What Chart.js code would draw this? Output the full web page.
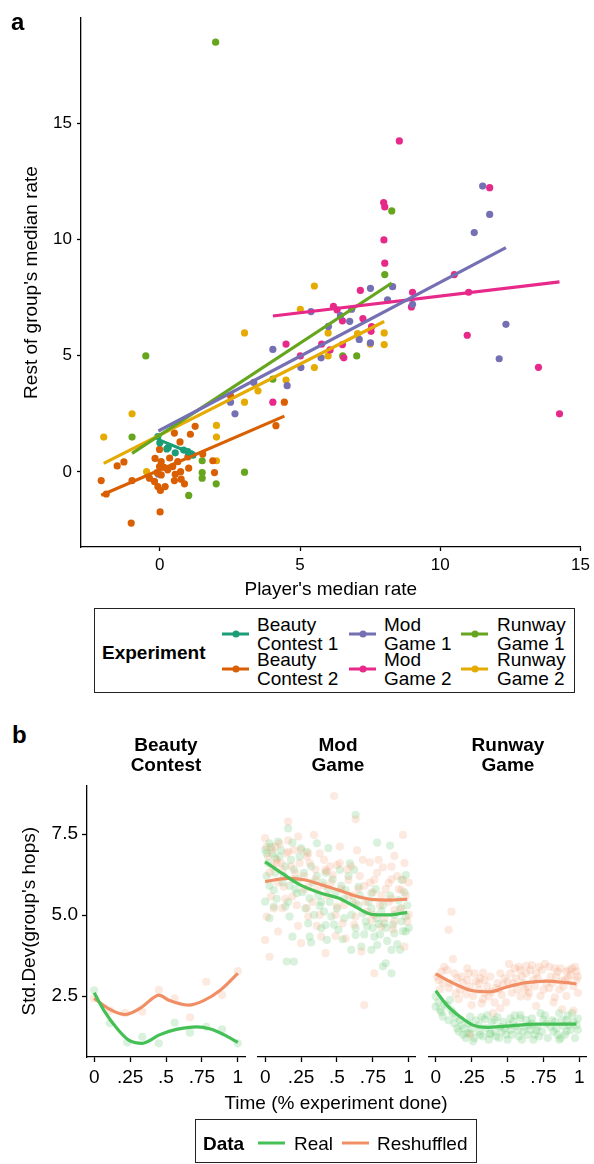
<!DOCTYPE html>
<html><head><meta charset="utf-8">
<script src="https://cdn.jsdelivr.net/npm/chart.js@4"></script>
<style>
body{margin:0;width:594px;height:1164px;position:relative;background:#fff;font-family:"Liberation Sans",Arial,Helvetica,sans-serif;overflow:hidden}
canvas{position:absolute}
.t{position:absolute;color:#000;white-space:nowrap;font-size:19px;line-height:19px}
.c{transform:translate(-50%,-50%);text-align:center}
.l{transform:translateY(-50%)}
.b{font-weight:bold}
.box{position:absolute;border:1px solid #222;box-sizing:border-box}
.sw{position:absolute;height:3px;transform:translateY(-50%)}
.dot{position:absolute;width:7px;height:7px;border-radius:50%;transform:translate(-50%,-50%)}
</style></head><body>
<canvas id="ca" style="left:0px;top:0px" width="594" height="606"></canvas>
<canvas id="cb1" style="left:0px;top:770px" width="250" height="330"></canvas>
<canvas id="cb2" style="left:250px;top:770px" width="170" height="330"></canvas>
<canvas id="cb3" style="left:420px;top:770px" width="174" height="330"></canvas>
<div id="txt"></div>
<script>
// ---------- Panel a data ----------
const aXTicks = [0, 5, 10, 15];
const aYTicks = [0, 5, 10, 15];
const experiments = ["Beauty Contest 1", "Beauty Contest 2", "Mod Game 1", "Mod Game 2", "Runway Game 1", "Runway Game 2"];
const expColors = ["#1B9E77", "#D95F02", "#7570B3", "#E7298A", "#66A61E", "#E6AB02"];
const beauty1 = [[-0.07,1.52],[0.0,1.25],[0.25,0.99],[0.3,1.05],[0.55,0.82],[0.85,0.94],[1.0,0.87],[1.12,0.78],[1.18,0.72]];
const beauty2 = [[-2.09,-0.37],[-1.91,-0.95],[-1.52,0.26],[-1.28,0.43],[-0.99,-0.37],[-1.02,-2.2],[0.01,-1.72],
  [-0.01,0.97],[-0.17,0.58],[0.05,0.44],[-0.01,0.23],[-0.1,-0.03],[0.05,-0.13],[-0.37,-0.27],[-0.19,-0.41],
  [-0.07,-0.63],[0.02,-0.8],[0.19,-0.63],[0.28,0.09],[0.46,0.23],[0.64,0.44],[0.74,0.01],[0.52,-0.37],
  [0.76,-0.31],[0.88,-0.51],[1.03,0.16],[1.0,0.65],[0.72,1.29],[0.52,1.67],[1.09,1.62],[1.26,1.96],
  [1.53,0.77],[1.89,0.48],[1.95,-0.03],[2.52,3.28],[4.14,1.99],[4.44,3.0],[0.35,0.6],[0.15,0.2],[0.55,-0.1]];
const mod1 = [[-0.05,-0.1],[2.52,3.0],[2.68,2.5],[3.35,3.85],[4.03,5.27],[4.54,3.71],[5.03,4.49],[5.39,6.9],
  [5.75,4.91],[6.01,6.26],[6.44,6.73],[6.77,6.48],[6.84,7.0],[7.11,5.7],[7.51,7.9],[7.51,5.55],[8.12,7.4],
  [8.3,7.97],[9.01,7.21],[11.21,10.3],[11.51,12.3],[11.76,11.08],[12.34,6.35],[12.1,4.87]];
const mod2 = [[8.54,14.24],[11.76,12.23],[7.98,11.59],[8.02,11.4],[7.99,9.98],[8.02,8.98],[10.5,8.49],[11.01,7.73],
  [9.01,7.73],[8.97,7.1],[7.15,7.81],[6.19,7.12],[6.32,6.97],[6.51,6.5],[7.24,6.6],[7.53,6.05],[7.55,6.25],
  [5.77,5.5],[6.07,5.25],[6.56,4.91],[6.51,5.48],[5.01,4.99],[10.96,5.88],[13.5,4.5],[14.25,2.5],[4.5,5.5],[4.03,3.0]];
const runway1 = [[1.99,18.49],[-0.5,4.99],[-0.99,1.5],[1.51,0.48],[1.51,-0.03],[1.51,-0.27],[2.01,-0.51],[3.02,-0.01],
  [1.03,-1.01],[8.02,8.49],[6.52,4.99],[7.02,4.99],[4.03,3.99],[8.27,11.23]];
const runway2 = [[-2.0,1.5],[-0.99,2.5],[-0.47,0.01],[2.02,2.0],[2.02,1.5],[2.02,0.48],[3.02,3.0],[3.5,3.49],[4.5,3.95],
  [3.02,5.98],[5.51,4.49],[5.01,7.0],[5.51,8.0],[6.0,5.98],[6.0,4.99],[7.5,5.5],[8.0,5.98],[8.0,5.48],[7.05,5.95]];
// fitted lines (endpoints)
const beauty1Fit = [[-0.07,1.4],[1.18,0.78]];
const beauty2Fit = [[-2.09,-1.0],[4.44,2.4]];
const mod1Fit = [[-0.05,1.76],[12.34,9.65]];
const mod2Fit = [[4.03,6.71],[14.25,8.18]];
const runway1Fit = [[-0.99,0.8],[8.27,8.13]];
const runway2Fit = [[-2.0,0.37],[8.0,6.47]];

// ---------- Panel b data ----------
const facets = ["Beauty\nContest", "Mod\nGame", "Runway\nGame"];
const bXTicks = [0, 0.25, 0.5, 0.75, 1];
const bXLabels = ["0", ".25", ".5", ".75", "1"];
const bYTicks = [2.5, 5.0, 7.5];
const bYLabels = ["2.5", "5.0", "7.5"];
const realColor = "#45C056";
const shufColor = "#F08F65";
const bcReal = [[0,2.68],[0.11,1.66],[0.23,1.07],[0.335,1.24],[0.45,1.04],[0.56,1.68],[0.667,1.37],[0.78,1.55],[0.89,1.47],[1.0,1.04]];
const bcShuf = [[0,2.43],[0.11,2.05],[0.215,1.97],[0.335,2.02],[0.45,2.69],[0.56,2.43],[0.667,1.84],[0.78,2.94],[0.89,2.53],[1.0,3.27]];
const bcRealFit = [[0,2.6],[0.073,2.02],[0.168,1.45],[0.24,1.14],[0.335,1.04],[0.37,1.09],[0.454,1.3],[0.572,1.47],[0.715,1.55],[0.81,1.48],[0.905,1.3],[1.0,1.07]];
const bcShufFit = [[0,2.43],[0.096,2.12],[0.215,1.93],[0.335,2.17],[0.406,2.43],[0.449,2.53],[0.525,2.36],[0.655,2.22],[0.762,2.36],[0.88,2.69],[1.0,3.2]];
const mgReal = [[0.63,8.09],[0.16,7.67],[0.78,7.23],[0.87,7.14],[0.36,7.21],[0.44,7.06],[0.19,7.23],[0.09,7.26],[0.03,7.21],
  [0,7.01],[0.25,7.06],[0.29,6.95],[0.59,6.59],[0.52,6.39],[0.62,6.39],[0.98,6.23],[0.95,6.08],[0.01,6.9],[0.07,6.75],
  [0.06,5.77],[0,5.41],[0.06,5.26],[0.03,4.9],[0.14,5.26],[0.17,4.95],[0.22,5.67],[0.31,5.51],[0.38,5.28],[0.41,5.1],
  [0.46,4.95],[0.42,4.69],[0.3,4.74],[0.31,4.33],[0.19,4.33],[0.32,4.15],[0.43,4.23],[0.51,4.54],[0.54,4.25],[0.6,3.92],
  [0.63,4.38],[0.67,4.02],[0.71,4.64],[0.76,4.33],[0.74,3.92],[0.78,4.07],[0.88,3.92],[0.94,3.92],[0.98,4.49],[0.9,4.43],
  [0.83,4.74],[0.79,4.72],[0.81,5.1],[0.93,5.46],[0.74,5.67],[0.68,5.05],[0.65,5.87],[0.56,5.77],[0.49,5.67],[0.15,3.56],
  [0.2,3.56],[0.82,3.41],[0.88,3.2],[0.84,3.51],[0.98,4.95],[0.39,4.59],
  [0.02,6.6],[0.04,7.1],[0.07,6.3],[0.1,6.8],[0.12,6.0],[0.14,6.5],[0.17,5.9],[0.2,6.4],[0.23,6.1],[0.26,5.7],[0.33,6.0],
  [0.37,5.6],[0.4,6.0],[0.45,5.4],[0.5,5.2],[0.55,5.5],[0.6,5.0],[0.65,5.3],[0.7,4.8],[0.74,5.2],[0.78,4.9],[0.84,4.6],
  [0.9,5.0],[0.95,4.8],[0.99,5.3],
  [0.01,6.2],[0.03,5.9],[0.05,6.9],[0.08,5.5],[0.11,7.0],[0.13,6.2],[0.16,5.4],[0.18,6.7],[0.21,5.8],[0.24,6.8],[0.27,6.3],
  [0.28,5.2],[0.32,6.5],[0.34,5.0],[0.36,6.2],[0.39,5.4],[0.42,6.3],[0.44,5.8],[0.47,6.1],[0.48,4.7],[0.53,5.9],[0.55,4.9],
  [0.58,6.2],[0.61,5.4],[0.63,4.6],[0.66,5.6],[0.69,4.4],[0.72,5.4],[0.75,4.6],[0.77,5.8],[0.8,4.4],[0.82,5.3],[0.85,4.2],
  [0.87,5.6],[0.89,4.7],[0.92,4.1],[0.94,5.2],[0.96,4.5],[0.97,5.7],[1.0,4.6]];
const mgShuf = [[0.48,8.67],[0.63,7.95],[0.16,7.88],[0.96,7.47],[0,7.37],[0.23,7.42],[0.34,7.47],[0.52,7.11],[0.64,6.99],
  [0.9,6.82],[0.73,6.62],[0.79,6.7],[0.82,6.47],[0.5,6.54],[0.42,6.39],[0.29,6.8],[0.07,7.11],[0.16,6.95],[0.05,6.49],
  [0.04,5.57],[0.01,4.95],[0.03,3.71],[0,4.23],[0.09,4.49],[0.12,5.21],[0.23,4.66],[0.25,4.13],[0.29,5.21],[0.36,4.66],
  [0.39,4.33],[0.42,3.82],[0.49,4.35],[0.56,4.28],[0.63,4.95],[0.67,3.87],[0.69,2.22],[0.76,3.2],[0.81,4.64],[0.89,4.56],
  [0.97,4.02],[1.0,5.0],[0.95,5.77],[0.86,5.98],[0.76,6.08],[0.69,5.9],[0.58,6.08],[0.47,6.23],[0.43,6.34],[0.3,5.87],
  [0.21,6.29],[0.13,5.87],[0.08,6.7],[0.63,5.36],[0.5,5.26],[0.36,5.77],[0.74,4.85],[0.9,5.15],[0.19,5.57],[0.88,6.49],
  [0.96,6.08],[0.54,4.74],[0.3,4.95],
  [0.02,6.8],[0.05,7.0],[0.08,6.6],[0.1,7.2],[0.12,6.4],[0.15,6.9],[0.18,6.5],[0.2,7.0],[0.24,6.6],[0.27,6.2],[0.31,6.6],
  [0.35,6.1],[0.38,6.9],[0.41,5.9],[0.45,6.5],[0.53,5.8],[0.57,6.4],[0.61,5.6],[0.66,6.2],[0.7,5.4],[0.75,5.7],[0.8,5.3],
  [0.84,5.8],[0.88,5.5],[0.92,6.2],[0.98,5.6],
  [0.01,7.1],[0.03,6.3],[0.06,5.2],[0.09,6.0],[0.11,6.6],[0.14,5.5],[0.16,7.3],[0.19,6.1],[0.22,5.3],[0.25,7.0],[0.27,5.8],
  [0.3,6.9],[0.33,5.4],[0.35,6.4],[0.38,5.0],[0.41,6.7],[0.43,5.6],[0.46,6.0],[0.49,5.0],[0.52,6.6],[0.55,5.3],[0.58,5.6],
  [0.6,6.5],[0.62,4.7],[0.65,5.8],[0.68,6.7],[0.71,5.1],[0.73,6.0],[0.76,5.0],[0.78,6.3],[0.81,5.6],[0.83,4.9],[0.86,5.4],
  [0.88,6.1],[0.9,4.8],[0.93,5.8],[0.95,5.2],[0.97,6.6],[0.99,4.8],[1.0,6.0]];
const mgRealFit = [[0,6.64],[0.116,6.29],[0.23,5.96],[0.39,5.67],[0.51,5.52],[0.625,5.26],[0.74,5.02],[0.856,5.0],[0.99,5.08]];
const mgShufFit = [[0,6.03],[0.16,6.13],[0.28,6.08],[0.39,5.93],[0.51,5.77],[0.625,5.59],[0.74,5.48],[0.856,5.46],[0.99,5.49]];
const rgReal = [[0,2.48],[0,2.17],[0.03,2.07],[0.1,2.38],[0.05,1.86],[0.15,1.5],[0.19,1.3],[0.24,1.35],[0.12,1.97],[0.24,1.86],
  [0.34,1.78],[0.41,1.76],[0.52,1.81],[0.59,1.81],[0.67,1.81],[0.73,1.97],[0.86,1.97],[0.95,1.97],[0.98,1.6],[0.3,1.4],
  [0.38,1.35],[0.49,1.3],[0.61,1.4],[0.7,1.45],[0.82,1.4],[0.91,1.4],[0.3,1.6],[0.45,1.55],[0.56,1.57],[0.65,1.6],
  [0.77,1.64],[0.89,1.57],[0.96,1.71],[0.36,1.91],[0.54,1.71],[0.63,1.76],[0.75,1.76],[0.83,1.71],[0.2,1.5],[0.85,1.3],
  [0.48,1.5],[0.17,1.76],[0.59,1.91],[0.91,1.76],[0.69,1.3],[0.41,1.4],[0.22,1.35],[0.38,1.32],[0.08,2.2],[0.27,1.2],
  [0.33,1.25],[0.44,1.2],[0.52,1.45],[0.58,1.25],[0.66,1.45],[0.72,1.25],[0.8,1.55],[0.87,1.2],[0.93,1.6],[0.99,1.45],
  [0.02,2.3],[0.04,2.0],[0.06,2.25],[0.09,1.75],[0.11,2.05],[0.13,1.65],[0.14,1.85],[0.16,1.4],[0.18,1.6],[0.21,1.2],
  [0.23,1.65],[0.25,1.5],[0.26,1.1],[0.28,1.75],[0.31,1.3],[0.32,1.85],[0.35,1.5],[0.37,1.15],[0.39,1.7],[0.42,1.25],
  [0.43,1.85],[0.46,1.4],[0.47,1.7],[0.5,1.15],[0.51,1.6],[0.53,1.3],[0.55,1.9],[0.57,1.45],[0.6,1.15],[0.62,1.55],
  [0.64,1.3],[0.67,1.65],[0.68,1.15],[0.71,1.55],[0.74,1.4],[0.76,1.9],[0.78,1.2],[0.81,1.75],[0.84,1.5],[0.86,1.15],
  [0.88,1.75],[0.9,1.3],[0.92,1.9],[0.94,1.45],[0.97,1.2],[0.99,1.8]];
const rgShuf = [[0.11,5.1],[0.09,4.54],[0.12,3.64],[0.51,3.49],[0.76,3.49],[0.63,3.43],[0.59,3.3],[0.22,3.35],[0.33,3.22],
  [0.83,3.35],[0.91,3.25],[0.98,2.99],[0.04,3.25],[0.15,3.05],[0.22,2.99],[0.3,2.89],[0.34,2.99],[0.48,3.05],[0.54,2.89],
  [0.68,2.99],[0.79,2.74],[0.42,2.74],[0.39,2.63],[0.3,2.69],[0.24,2.79],[0.17,2.69],[0.09,2.74],[0.64,2.77],[0.75,2.69],
  [0.89,2.79],[0.59,2.48],[0.64,2.48],[0.83,2.46],[0.46,2.53],[0.37,2.48],[0.25,2.22],[0.32,2.27],[0.45,2.12],[0.7,2.19],
  [0.88,2.09],[0.96,2.05],[0.4,1.97],[0.24,1.3],[0.14,2.58],[0.02,2.99],[0.98,3.25],[0.94,3.15],
  [0.45,3.2],[0.55,3.35],[0.6,3.1],[0.66,3.3],[0.7,3.2],[0.72,3.4],[0.8,3.1],[0.85,3.25],[0.92,3.05],[0.95,3.35],
  [0.5,2.95],[0.56,3.05],[0.62,2.7],[0.88,2.95],[0.99,3.1],[0.05,2.9],[0.08,3.3],[0.18,3.1],[0.27,3.2],[0.34,2.6],[0.43,2.9],
  [0.01,3.1],[0.03,2.7],[0.06,3.4],[0.1,2.9],[0.13,3.2],[0.16,2.4],[0.19,2.9],[0.21,2.55],[0.23,3.2],[0.26,2.5],[0.28,2.95],
  [0.31,3.05],[0.33,2.4],[0.36,2.8],[0.38,3.1],[0.41,2.3],[0.44,2.7],[0.47,2.85],[0.49,2.3],[0.52,3.2],[0.53,2.6],[0.57,2.7],
  [0.58,3.4],[0.61,2.9],[0.63,3.2],[0.65,2.6],[0.67,3.45],[0.69,2.8],[0.71,3.05],[0.73,2.5],[0.74,3.3],[0.77,2.9],[0.79,3.4],
  [0.81,2.9],[0.82,2.3],[0.84,3.1],[0.86,2.7],[0.87,3.35],[0.9,3.0],[0.91,2.5],[0.93,3.3],[0.96,2.8],[0.97,3.4],[0.99,2.6]];
const rgRealFit = [[0,2.66],[0.078,2.22],[0.17,1.86],[0.26,1.6],[0.355,1.53],[0.49,1.57],[0.7,1.63],[0.98,1.63]];
const rgShufFit = [[0,3.18],[0.124,2.89],[0.26,2.66],[0.378,2.63],[0.49,2.77],[0.63,2.91],[0.77,2.96],[0.91,2.91],[0.98,2.87]];

// ---------- helpers ----------
const FAM = '"Liberation Sans", Arial, Helvetica, sans-serif';
Chart.defaults.font.family = FAM;
Chart.defaults.color = '#000';
const P = a => a.map(p => ({x: p[0], y: p[1]}));
function alpha(hex, a) {
  const n = parseInt(hex.slice(1), 16);
  return `rgba(${n >> 16},${(n >> 8) & 255},${n & 255},${a})`;
}
const axisGrid = len => ({display: true, drawOnChartArea: false, drawTicks: true, tickLength: len, tickWidth: 1.3, tickColor: '#000', color: '#000'});
const axisBorder = {display: true, color: '#000', width: 1.3};
const baseOpts = {responsive: false, animation: false, devicePixelRatio: 1, events: [],
  plugins: {legend: {display: false}, tooltip: {enabled: false}}};

// ---------- Panel a chart ----------
const aPts = [beauty1, beauty2, mod1, mod2, runway1, runway2];
const aFits = [beauty1Fit, beauty2Fit, mod1Fit, mod2Fit, runway1Fit, runway2Fit];
const dsA = [];
aFits.forEach((f, i) => dsA.push({type: 'line', label: experiments[i] + ' fit', data: P(f), borderColor: expColors[i],
  borderWidth: 3.2, pointRadius: 0, fill: false, order: 0}));
aPts.forEach((s, i) => dsA.push({type: 'scatter', label: experiments[i], data: P(s), backgroundColor: expColors[i],
  borderWidth: 0, pointRadius: 3.6, order: 1}));
new Chart(document.getElementById('ca'), {
  type: 'scatter', data: {datasets: dsA},
  options: Object.assign({}, baseOpts, {
    layout: {padding: {left: 0, right: 11, top: 18, bottom: 0}},
    scales: {
      x: {type: 'linear', min: -2.81, max: 15.0,
        afterBuildTicks: s => { s.ticks = aXTicks.map(v => ({value: v})); },
        afterFit: s => { s.height = 59; },
        grid: axisGrid(4), border: axisBorder,
        ticks: {font: {size: 17}, color: '#000', padding: 4, maxRotation: 0, autoSkip: false, callback: v => String(v)},
        title: {display: true, text: "Player's median rate", font: {size: 19}, color: '#000', padding: {top: 0, bottom: 5}}},
      y: {type: 'linear', min: -3.23, max: 19.53,
        afterBuildTicks: s => { s.ticks = aYTicks.map(v => ({value: v})); },
        afterFit: s => { s.width = 81; },
        grid: axisGrid(4), border: axisBorder,
        ticks: {font: {size: 17}, color: '#000', padding: 5, autoSkip: false, callback: v => String(v)},
        title: {display: true, text: "Rest of group's median rate", font: {size: 19}, color: '#000', padding: {top: 20, bottom: 0}}}
    }
  })
});

// ---------- Panel b charts ----------
const facetData = [[bcReal, bcShuf, bcRealFit, bcShufFit], [mgReal, mgShuf, mgRealFit, mgShufFit], [rgReal, rgShuf, rgRealFit, rgShufFit]];
const facetPad = [{left: 0, right: 5}, {left: 8, right: 4}, {left: 8.5, right: 7.5}];
['cb1', 'cb2', 'cb3'].forEach((id, k) => {
  const [r, s, rf, sf] = facetData[k];
  const ds = [
    {type: 'line', label: 'Real fit', data: P(rf), borderColor: realColor, borderWidth: 3.2, pointRadius: 0, fill: false, cubicInterpolationMode: 'monotone', order: 0},
    {type: 'line', label: 'Reshuffled fit', data: P(sf), borderColor: shufColor, borderWidth: 3.2, pointRadius: 0, fill: false, cubicInterpolationMode: 'monotone', order: 0},
    {type: 'scatter', label: 'Reshuffled', data: P(s), backgroundColor: alpha(shufColor, 0.2), borderWidth: 0, pointRadius: 4.1, order: 1},
    {type: 'scatter', label: 'Real', data: P(r), backgroundColor: alpha(realColor, 0.2), borderWidth: 0, pointRadius: 4.1, order: 2}
  ];
  new Chart(document.getElementById(id), {
    type: 'scatter', data: {datasets: ds},
    options: Object.assign({}, baseOpts, {
      layout: {padding: {left: facetPad[k].left, right: facetPad[k].right, top: 15, bottom: 0}},
      scales: {
        x: {type: 'linear', min: -0.05, max: 1.05,
          afterBuildTicks: sc => { sc.ticks = bXTicks.map(v => ({value: v})); },
          afterFit: sc => { sc.height = 43; },
          grid: axisGrid(5), border: axisBorder,
          ticks: {font: {size: 19}, color: '#000', padding: 4, maxRotation: 0, autoSkip: false, callback: (v, i) => bXLabels[i]}},
        y: {type: 'linear', min: 0.617, max: 9.01, display: k === 0,
          afterBuildTicks: sc => { sc.ticks = bYTicks.map(v => ({value: v})); },
          afterFit: sc => { sc.width = k === 0 ? 87 : 0; },
          grid: axisGrid(5), border: axisBorder,
          ticks: {font: {size: 19}, color: '#000', padding: 4, autoSkip: false, callback: (v, i) => bYLabels[i]},
          title: {display: true, text: "Std.Dev(group's hops)", font: {size: 19}, color: '#000', padding: {top: 18, bottom: 0}}}
      }
    })
  });
});

// ---------- text, legends ----------
const T = document.getElementById('txt');
function add(html, cls, css) { const d = document.createElement('div'); d.className = cls; d.style.cssText = css; d.innerHTML = html; T.appendChild(d); return d; }
add('a', 't b l', 'left:11px;top:22px;font-size:24px;line-height:24px');
add('b', 't b l', 'left:12px;top:735px;font-size:24px;line-height:24px');
// legend a
add('', 'box', 'left:94px;top:608px;width:481px;height:85px');
add('Experiment', 't b l', 'left:102px;top:652px');
const legCols = [[222, 257], [349, 384], [461, 497]];
const legRows = [634, 669];
experiments.forEach((name, i) => {
  const col = Math.floor(i / 2), row = i % 2;
  const [sx, tx] = legCols[col];
  const y = legRows[row];
  add('', 'sw', `left:${sx}px;top:${y}px;width:27px;background:${expColors[i]}`);
  add('', 'dot', `left:${sx + 13.5}px;top:${y}px;background:${expColors[i]}`);
  const parts = name.split(' ');
  add(parts[0] + '<br>' + parts.slice(1).join(' '), 't', `left:${tx}px;top:${y - 19}px`);
});
// facet titles
[166, 338, 508].forEach((cx, i) => add(facets[i].replace('\n', '<br>'), 't b c', `left:${cx}px;top:755px;line-height:20px`));
add('Time (% experiment done)', 't c', 'left:336px;top:1102px');
// legend b
add('', 'box', 'left:195px;top:1119px;width:282px;height:44px');
add('Data', 't b l', 'left:203px;top:1143px');
add('', 'sw', `left:258px;top:1143px;width:27px;background:${realColor}`);
add('Real', 't l', 'left:294px;top:1143px');
add('', 'sw', `left:342px;top:1143px;width:27px;background:${shufColor}`);
add('Reshuffled', 't l', 'left:377px;top:1143px');
</script>
</body></html>
